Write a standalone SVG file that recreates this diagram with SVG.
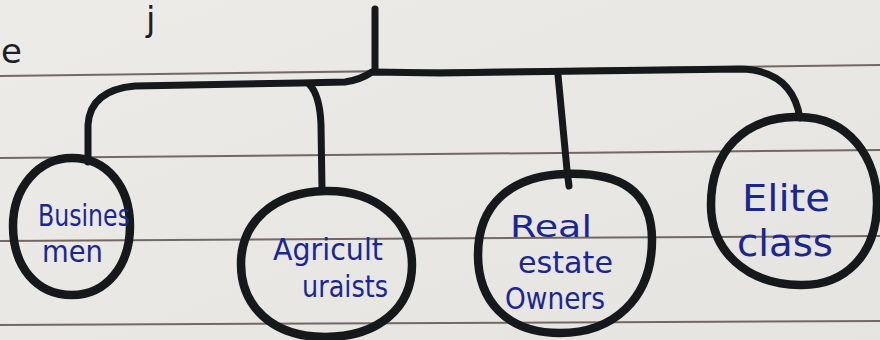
<svg xmlns="http://www.w3.org/2000/svg" width="880" height="340" viewBox="0 0 880 340">
<style>
.rule{stroke:#5e514e;stroke-width:2;fill:none;opacity:0.85}
.node{fill:none;stroke:#16191b;stroke-width:8.5;stroke-linejoin:round}
.conn{fill:none;stroke:#16191b;stroke-width:7;stroke-linecap:round;stroke-linejoin:round}
.lbl{font-family:"DejaVu Sans","Liberation Sans",sans-serif;fill:#1a2790;font-size:30px}
.pen{font-family:"DejaVu Sans","Liberation Sans",sans-serif;fill:#1b1e24;font-size:34px}
</style>
<defs>
<linearGradient id="paper" x1="0" y1="0" x2="1" y2="1">
<stop offset="0" stop-color="#ecebe8"/>
<stop offset="1" stop-color="#e6e4e1"/>
</linearGradient>
</defs>
<rect width="880" height="340" fill="url(#paper)"/>
<g id="rules">
<path class="rule" d="M0 76 L880 65"/>
<path class="rule" d="M0 158 L880 150"/>
<path class="rule" d="M0 241 L880 236"/>
<path class="rule" d="M0 325 L880 321"/>
</g>
<g id="fragments">
<text class="pen" x="1" y="63">e</text>
<text class="pen" x="146" y="31">j</text>
</g>
<g id="connectors">
<path class="conn" d="M375 9 L375 70"/>
<path class="conn" d="M88 162 L88 125 Q90 90 135 86 L300 83 L345 82 Q360 80 372 72 L440 73 L740 69 Q792 70 800 118"/>
<path class="conn" d="M309 84 Q320 95 321 125 L322 190"/>
<path class="conn" d="M558 75 L567 170 L569 186"/>
</g>
<g id="businessmen">
<path class="node" d="M72 158 C108 158 130 188 130 226 C130 266 106 295 72 295 C36 295 13 266 13 226 C13 188 38 158 72 158 Z"/>
<text class="lbl" x="38" y="226" textLength="92" lengthAdjust="spacingAndGlyphs">Busines</text>
<text class="lbl" x="42" y="262" textLength="61" lengthAdjust="spacingAndGlyphs">men</text>
</g>
<g id="agriculturalists">
<path class="node" d="M325 191 C378 190 412 222 412 265 C412 308 378 337 325 337 C272 337 241 306 241 264 C241 222 274 192 325 191 Z"/>
<text class="lbl" x="273" y="260" textLength="110" lengthAdjust="spacingAndGlyphs">Agricult</text>
<text class="lbl" x="302" y="297" textLength="86" lengthAdjust="spacingAndGlyphs">uraists</text>
</g>
<g id="real-estate">
<path class="node" d="M565 174 C622 172 652 192 652 240 C652 300 612 333 560 333 C506 333 478 300 478 255 C478 205 510 176 565 174 Z"/>
<text class="lbl" x="510" y="237" textLength="82" lengthAdjust="spacingAndGlyphs">Real</text>
<text class="lbl" x="518" y="273" textLength="95" lengthAdjust="spacingAndGlyphs">estate</text>
<text class="lbl" x="505" y="309" textLength="100" lengthAdjust="spacingAndGlyphs">Owners</text>
</g>
<g id="elite">
<path class="node" d="M795 117 C850 115 878 160 877 205 C876 255 845 286 800 285 C745 284 711 250 711 205 C711 150 745 118 795 117 Z"/>
<text class="lbl" x="742" y="211" textLength="88" lengthAdjust="spacingAndGlyphs" style="font-size:38px">Elite</text>
<text class="lbl" x="737" y="256" textLength="96" lengthAdjust="spacingAndGlyphs" style="font-size:38px">class</text>
</g>
</svg>
